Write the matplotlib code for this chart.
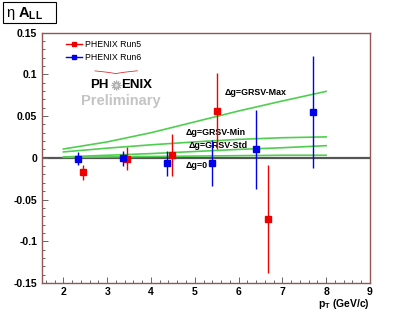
import numpy as np
import matplotlib
matplotlib.use('Agg')
import matplotlib.pyplot as plt
from matplotlib.lines import Line2D
from matplotlib.patches import Rectangle
from matplotlib.ticker import MultipleLocator

plt.rcParams['font.family'] = ['Liberation Sans', 'DejaVu Sans']
plt.rcParams['mathtext.fontset'] = 'custom'
plt.rcParams['mathtext.rm'] = 'Liberation Sans'
plt.rcParams['mathtext.bf'] = 'Liberation Sans:bold'
plt.rcParams['mathtext.it'] = 'Liberation Sans:italic'

# PHENIX Run5
pt_run5 = [2.44, 3.46, 4.47, 5.50, 6.68]
all_run5 = [-0.0175, -0.001, 0.0033, 0.056, -0.0733]
err_run5 = [0.009, 0.0135, 0.025, 0.0455, 0.065]

# PHENIX Run6
pt_run6 = [2.33, 3.35, 4.37, 5.39, 6.41, 7.71]
all_run6 = [-0.001, -0.0007, -0.0066, -0.0059, 0.0101, 0.0548]
err_run6 = [0.0076, 0.0088, 0.015, 0.0275, 0.0475, 0.067]

# theory curves (GRSV)
pt_theo = [2, 3, 4, 5, 6, 7, 8]
grsv_max = [0.0105, 0.019, 0.030, 0.043, 0.056, 0.068, 0.0795]
grsv_min = [0.007, 0.0115, 0.0155, 0.019, 0.022, 0.024, 0.025]
grsv_std = [0.001, 0.003, 0.005, 0.0075, 0.0100, 0.012, 0.0145]
dg_zero = [0.0005, 0.001, 0.0015, 0.002, 0.0025, 0.003, 0.003]

theo_labels = ['Δg=GRSV-Max', 'Δg=GRSV-Min', 'Δg=GRSV-Std', 'Δg=0']
label_pos = [(5.69, 0.0777), (4.78, 0.030), (4.87, 0.0146), (4.78, -0.0092)]

yticks = [-0.15, -0.1, -0.05, 0, 0.05, 0.1, 0.15]
ytick_labels = ['-0.15', '-0.1', '-0.05', '0', '0.05', '0.1', '0.15']
xticks = [2, 3, 4, 5, 6, 7, 8, 9]

fig = plt.figure(figsize=(4.11, 3.16), dpi=100)
ax = fig.add_axes([0.101, 0.1044, 0.799, 0.7927])

frame_col = '#955555'
for s in ax.spines.values():
    s.set_color(frame_col)
    s.set_linewidth(1.0)

ax.set_xlim(1.5, 9)
ax.set_ylim(-0.15, 0.15)

# zero line
ax.axhline(0, color='#555555', lw=1.6, zorder=1)

# theory curves
for yy in [grsv_max, grsv_min, grsv_std, dg_zero]:
    ax.plot(pt_theo, yy, color='#4fcf4f', lw=1.2, zorder=2)
for txt, (lx, ly) in zip(theo_labels, label_pos):
    ax.text(lx, ly, txt, fontsize=6.4, fontweight='bold', ha='left', va='center',
            family=['Liberation Sans', 'DejaVu Sans'], zorder=3)

# data
ax.errorbar(pt_run5, all_run5, yerr=err_run5, fmt='s', color='#ee0000', ms=3.8,
            lw=1.0, capsize=0, zorder=4)
ax.errorbar(pt_run6, all_run6, yerr=err_run6, fmt='s', color='#0000ee', ms=3.8,
            lw=1.0, capsize=0, zorder=4)

# legend
handles = [Line2D([], [], color='#ee0000', marker='s', ms=3.5, lw=1.0),
           Line2D([], [], color='#0000ee', marker='s', ms=3.5, lw=1.0)]
ax.legend(handles, ['PHENIX Run5', 'PHENIX Run6'], loc='upper left',
          bbox_to_anchor=(0.05, 1.0), frameon=False, fontsize=6.3,
          handlelength=1.9, handletextpad=0.3, labelspacing=0.45)

# PHENIX Preliminary logo
ax.text(0.205, 0.79, 'PH', transform=ax.transAxes, fontsize=9.5, fontweight='bold',
        ha='right', va='center')
ax.plot([0.226], [0.79], transform=ax.transAxes, marker=(12, 2, 0), ms=7,
        color='#b0b0b0', mew=0.8)
ax.plot([0.226], [0.79], transform=ax.transAxes, marker='o', ms=2.5,
        color='#dddddd', mew=0)
ax.text(0.243, 0.79, 'ENIX', transform=ax.transAxes, fontsize=9.5, fontweight='bold',
        ha='left', va='center')
arc_x = np.linspace(0.163, 0.292, 30)
arc_y = 0.835 + 0.012 * np.abs((arc_x - 0.226) / 0.065) ** 0.7
ax.plot(arc_x, arc_y, transform=ax.transAxes, color='#dd3333', lw=0.6)
ax.text(0.243, 0.728, 'Preliminary', transform=ax.transAxes, fontsize=10.5,
        fontweight='bold', color='#c4c4c4', ha='center', va='center')

# axes ticks
ax.set_yticks(yticks)
ax.set_yticklabels(ytick_labels)
ax.set_xticks(xticks)
ax.set_xticklabels([str(v) for v in xticks])
ax.xaxis.set_minor_locator(MultipleLocator(0.2))
ax.yaxis.set_minor_locator(MultipleLocator(0.01))
ax.tick_params(which='both', direction='in', top=False, right=False, color='#666666',
               width=0.7)
ax.tick_params(which='major', length=4.5)
ax.tick_params(which='minor', length=2.2)
ax.tick_params(axis='y', which='major', pad=3, labelsize=7.5)
ax.tick_params(axis='x', which='major', pad=3, labelsize=7.5)
for lab in ax.get_xticklabels() + ax.get_yticklabels():
    lab.set_fontweight('bold')

fig.text(370 / 411, 1 - 304 / 316, r'$\mathbf{p_T}$ (GeV/c)', fontsize=7.5,
         fontweight='bold', ha='right', va='center')

# title box
fig.patches.append(Rectangle((2.5 / 411, 1 - 23 / 316), 53 / 411, 20.5 / 316,
                             transform=fig.transFigure, fill=True, fc='white',
                             ec='black', lw=0.8))
fig.text(6 / 411, 1 - 13 / 316, r'η $\mathbf{A_{LL}}$', fontsize=10.5,
         ha='left', va='center')

fig.savefig('out.png', dpi=100)
